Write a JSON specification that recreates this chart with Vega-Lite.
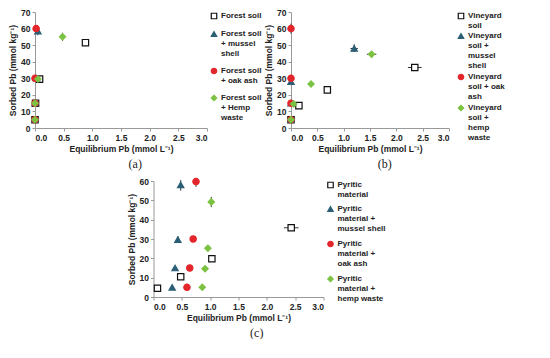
{
  "$schema": "https://vega.github.io/schema/vega-lite/v6.json",
  "padding": {"left": 8, "top": 8, "right": 0, "bottom": 0},
  "datasets": {
    "a": [
      {"series": "Forest soil", "x": 0.0, "y": 5},
      {"series": "Forest soil", "x": 0.01, "y": 15},
      {"series": "Forest soil", "x": 0.08, "y": 29.5},
      {"series": "Forest soil", "x": 0.88, "y": 51.5, "ylo": 49.5, "yhi": 53.5},
      {"series": "Forest soil + mussel shell", "x": 0.0, "y": 5},
      {"series": "Forest soil + mussel shell", "x": 0.0, "y": 15},
      {"series": "Forest soil + mussel shell", "x": 0.03, "y": 30},
      {"series": "Forest soil + mussel shell", "x": 0.05, "y": 58.5, "ylo": 56, "yhi": 61.5},
      {"series": "Forest soil + oak ash", "x": 0.0, "y": 5},
      {"series": "Forest soil + oak ash", "x": 0.0, "y": 15},
      {"series": "Forest soil + oak ash", "x": 0.0, "y": 30},
      {"series": "Forest soil + oak ash", "x": 0.02, "y": 60},
      {"series": "Forest soil + Hemp waste", "x": 0.0, "y": 5},
      {"series": "Forest soil + Hemp waste", "x": 0.0, "y": 15},
      {"series": "Forest soil + Hemp waste", "x": 0.05, "y": 29.5},
      {"series": "Forest soil + Hemp waste", "x": 0.48, "y": 55, "ylo": 52.5, "yhi": 57.5}
    ],
    "b": [
      {"series": "Vineyard soil", "x": 0.0, "y": 5},
      {"series": "Vineyard soil", "x": 0.15, "y": 13.5},
      {"series": "Vineyard soil", "x": 0.69, "y": 23},
      {"series": "Vineyard soil", "x": 2.35, "y": 36.5, "xlo": 2.22, "xhi": 2.48, "ylo": 35, "yhi": 38},
      {"series": "Vineyard soil + mussel shell", "x": 0.0, "y": 5},
      {"series": "Vineyard soil + mussel shell", "x": 0.0, "y": 15},
      {"series": "Vineyard soil + mussel shell", "x": 0.0, "y": 28},
      {"series": "Vineyard soil + mussel shell", "x": 1.2, "y": 48, "xlo": 1.13, "xhi": 1.27, "ylo": 45.8, "yhi": 50.5},
      {"series": "Vineyard soil + oak ash", "x": 0.0, "y": 5},
      {"series": "Vineyard soil + oak ash", "x": 0.0, "y": 15},
      {"series": "Vineyard soil + oak ash", "x": 0.0, "y": 30},
      {"series": "Vineyard soil + oak ash", "x": 0.0, "y": 60, "ylo": 57, "yhi": 63},
      {"series": "Vineyard soil + hemp waste", "x": 0.0, "y": 5},
      {"series": "Vineyard soil + hemp waste", "x": 0.05, "y": 14.5},
      {"series": "Vineyard soil + hemp waste", "x": 0.38, "y": 26.5, "ylo": 25, "yhi": 28},
      {"series": "Vineyard soil + hemp waste", "x": 1.53, "y": 44.5, "xlo": 1.44, "xhi": 1.62, "ylo": 42.5, "yhi": 46.5}
    ],
    "c": [
      {"series": "Pyritic material", "x": 0.07, "y": 4.5, "xlo": 0.03, "xhi": 0.11},
      {"series": "Pyritic material", "x": 0.48, "y": 10.5},
      {"series": "Pyritic material", "x": 1.03, "y": 19.8},
      {"series": "Pyritic material", "x": 2.43, "y": 35.8, "xlo": 2.3, "xhi": 2.56, "ylo": 34.5, "yhi": 37},
      {"series": "Pyritic material + mussel shell", "x": 0.33, "y": 5},
      {"series": "Pyritic material + mussel shell", "x": 0.38, "y": 15},
      {"series": "Pyritic material + mussel shell", "x": 0.43, "y": 29.7, "ylo": 28, "yhi": 31.5},
      {"series": "Pyritic material + mussel shell", "x": 0.48, "y": 58, "ylo": 55, "yhi": 60.5},
      {"series": "Pyritic material + oak ash", "x": 0.59, "y": 5},
      {"series": "Pyritic material + oak ash", "x": 0.64, "y": 15},
      {"series": "Pyritic material + oak ash", "x": 0.7, "y": 30, "ylo": 28.5, "yhi": 31.5},
      {"series": "Pyritic material + oak ash", "x": 0.75, "y": 59.7, "ylo": 57, "yhi": 61.5},
      {"series": "Pyritic material + hemp waste", "x": 0.86, "y": 5, "xlo": 0.81, "xhi": 0.91},
      {"series": "Pyritic material + hemp waste", "x": 0.91, "y": 14.6, "xlo": 0.86, "xhi": 0.96},
      {"series": "Pyritic material + hemp waste", "x": 0.96, "y": 25.2, "xlo": 0.92, "xhi": 1.0, "ylo": 23.8, "yhi": 26.8},
      {"series": "Pyritic material + hemp waste", "x": 1.02, "y": 49.2, "xlo": 0.97, "xhi": 1.07, "ylo": 46.5, "yhi": 51.8}
    ]
  },
  "vconcat": [
    {
      "hconcat": [
        {
          "width": 172, "height": 116,
          "data": {"name": "a"},
          "title": {"text": "(a)"},
          "layer": [
            {
              "transform": [{"filter": "isValid(datum.ylo)"}],
              "mark": {"type": "rule", "color": "#333", "strokeWidth": 1},
              "encoding": {
                "x": {"field": "x", "type": "quantitative", "scale": {"domain": [0, 3]}, "axis": {"title": "Equilibrium Pb (mmol L⁻¹)", "values": [0, 0.5, 1, 1.5, 2, 2.5, 3], "format": ".1f"}},
                "y": {"field": "ylo", "type": "quantitative", "scale": {"domain": [0, 70]}, "axis": {"title": "Sorbed Pb (mmol kg⁻¹)", "values": [0, 10, 20, 30, 40, 50, 60, 70]}},
                "y2": {"field": "yhi"}
              }
            },
            {
              "mark": {"type": "point", "strokeWidth": 1.2, "opacity": 1, "size": 40},
              "encoding": {
                "x": {"field": "x", "type": "quantitative", "scale": {"domain": [0, 3]}, "axis": {"title": "Equilibrium Pb (mmol L⁻¹)", "values": [0, 0.5, 1, 1.5, 2, 2.5, 3], "format": ".1f"}},
                "y": {"field": "y", "type": "quantitative", "scale": {"domain": [0, 70]}, "axis": {"title": "Sorbed Pb (mmol kg⁻¹)", "values": [0, 10, 20, 30, 40, 50, 60, 70]}},
                "fill": {"field": "series", "type": "nominal", "scale": {"domain": ["Forest soil", "Forest soil + mussel shell", "Forest soil + oak ash", "Forest soil + Hemp waste"], "range": ["white", "#2b5f75", "#e3262b", "#7cc242"]}, "legend": {"title": null, "rowPadding": 7, "labelExpr": "{'Forest soil': ['Forest soil'], 'Forest soil + mussel shell': ['Forest soil', '+ mussel', 'shell'], 'Forest soil + oak ash': ['Forest soil', '+ oak ash'], 'Forest soil + Hemp waste': ['Forest soil', '+ Hemp', 'waste']}[datum.label]", "encode": {"labels": {"update": {"lineHeight": {"value": 9}}}}}},
                "stroke": {"field": "series", "type": "nominal", "scale": {"domain": ["Forest soil", "Forest soil + mussel shell", "Forest soil + oak ash", "Forest soil + Hemp waste"], "range": ["#111", "#2b5f75", "#e3262b", "#7cc242"]}, "legend": {"title": null, "rowPadding": 7, "labelExpr": "{'Forest soil': ['Forest soil'], 'Forest soil + mussel shell': ['Forest soil', '+ mussel', 'shell'], 'Forest soil + oak ash': ['Forest soil', '+ oak ash'], 'Forest soil + Hemp waste': ['Forest soil', '+ Hemp', 'waste']}[datum.label]", "encode": {"labels": {"update": {"lineHeight": {"value": 9}}}}}},
                "shape": {"field": "series", "type": "nominal", "scale": {"domain": ["Forest soil", "Forest soil + mussel shell", "Forest soil + oak ash", "Forest soil + Hemp waste"], "range": ["square", "triangle-up", "circle", "diamond"]}, "legend": {"title": null, "rowPadding": 7, "labelExpr": "{'Forest soil': ['Forest soil'], 'Forest soil + mussel shell': ['Forest soil', '+ mussel', 'shell'], 'Forest soil + oak ash': ['Forest soil', '+ oak ash'], 'Forest soil + Hemp waste': ['Forest soil', '+ Hemp', 'waste']}[datum.label]", "encode": {"labels": {"update": {"lineHeight": {"value": 9}}}}}}
              }
            }
          ]
        },
        {
          "width": 158, "height": 116,
          "data": {"name": "b"},
          "title": {"text": "(b)"},
          "layer": [
            {
              "transform": [{"filter": "isValid(datum.ylo)"}],
              "mark": {"type": "rule", "color": "#333", "strokeWidth": 1},
              "encoding": {
                "x": {"field": "x", "type": "quantitative", "scale": {"domain": [0, 3]}, "axis": {"title": "Equilibrium Pb (mmol L⁻¹)", "values": [0, 0.5, 1, 1.5, 2, 2.5, 3], "format": ".1f"}},
                "y": {"field": "ylo", "type": "quantitative", "scale": {"domain": [0, 70]}, "axis": {"title": "Sorbed Pb (mmol kg⁻¹)", "values": [0, 10, 20, 30, 40, 50, 60, 70]}},
                "y2": {"field": "yhi"}
              }
            },
            {
              "transform": [{"filter": "isValid(datum.xlo)"}],
              "mark": {"type": "rule", "color": "#333", "strokeWidth": 1},
              "encoding": {
                "x": {"field": "xlo", "type": "quantitative", "scale": {"domain": [0, 3]}, "axis": {"title": "Equilibrium Pb (mmol L⁻¹)", "values": [0, 0.5, 1, 1.5, 2, 2.5, 3], "format": ".1f"}},
                "x2": {"field": "xhi"},
                "y": {"field": "y", "type": "quantitative", "scale": {"domain": [0, 70]}, "axis": {"title": "Sorbed Pb (mmol kg⁻¹)", "values": [0, 10, 20, 30, 40, 50, 60, 70]}}
              }
            },
            {
              "mark": {"type": "point", "strokeWidth": 1.2, "opacity": 1, "size": 40},
              "encoding": {
                "x": {"field": "x", "type": "quantitative", "scale": {"domain": [0, 3]}, "axis": {"title": "Equilibrium Pb (mmol L⁻¹)", "values": [0, 0.5, 1, 1.5, 2, 2.5, 3], "format": ".1f"}},
                "y": {"field": "y", "type": "quantitative", "scale": {"domain": [0, 70]}, "axis": {"title": "Sorbed Pb (mmol kg⁻¹)", "values": [0, 10, 20, 30, 40, 50, 60, 70]}},
                "fill": {"field": "series", "type": "nominal", "scale": {"domain": ["Vineyard soil", "Vineyard soil + mussel shell", "Vineyard soil + oak ash", "Vineyard soil + hemp waste"], "range": ["white", "#2b5f75", "#e3262b", "#7cc242"]}, "legend": {"title": null, "offset": 8, "rowPadding": 1, "labelExpr": "{'Vineyard soil': ['Vineyard', 'soil'], 'Vineyard soil + mussel shell': ['Vineyard', 'soil +', 'mussel', 'shell'], 'Vineyard soil + oak ash': ['Vineyard', 'soil + oak', 'ash'], 'Vineyard soil + hemp waste': ['Vineyard', 'soil +', 'hemp', 'waste']}[datum.label]", "encode": {"labels": {"update": {"lineHeight": {"value": 9}}}}}},
                "stroke": {"field": "series", "type": "nominal", "scale": {"domain": ["Vineyard soil", "Vineyard soil + mussel shell", "Vineyard soil + oak ash", "Vineyard soil + hemp waste"], "range": ["#111", "#2b5f75", "#e3262b", "#7cc242"]}, "legend": {"title": null, "offset": 8, "rowPadding": 1, "labelExpr": "{'Vineyard soil': ['Vineyard', 'soil'], 'Vineyard soil + mussel shell': ['Vineyard', 'soil +', 'mussel', 'shell'], 'Vineyard soil + oak ash': ['Vineyard', 'soil + oak', 'ash'], 'Vineyard soil + hemp waste': ['Vineyard', 'soil +', 'hemp', 'waste']}[datum.label]", "encode": {"labels": {"update": {"lineHeight": {"value": 9}}}}}},
                "shape": {"field": "series", "type": "nominal", "scale": {"domain": ["Vineyard soil", "Vineyard soil + mussel shell", "Vineyard soil + oak ash", "Vineyard soil + hemp waste"], "range": ["square", "triangle-up", "circle", "diamond"]}, "legend": {"title": null, "offset": 8, "rowPadding": 1, "labelExpr": "{'Vineyard soil': ['Vineyard', 'soil'], 'Vineyard soil + mussel shell': ['Vineyard', 'soil +', 'mussel', 'shell'], 'Vineyard soil + oak ash': ['Vineyard', 'soil + oak', 'ash'], 'Vineyard soil + hemp waste': ['Vineyard', 'soil +', 'hemp', 'waste']}[datum.label]", "encode": {"labels": {"update": {"lineHeight": {"value": 9}}}}}}
              }
            }
          ]
        }
      ],
      "spacing": 2,
      "resolve": {"scale": {"fill": "independent", "stroke": "independent", "shape": "independent"}, "legend": {"fill": "independent", "stroke": "independent", "shape": "independent"}}
    },
    {
      "width": 170, "height": 116,
      "data": {"name": "c"},
      "title": {"text": "(c)"},
      "layer": [
        {
          "transform": [{"filter": "isValid(datum.ylo)"}],
          "mark": {"type": "rule", "color": "#333", "strokeWidth": 1},
          "encoding": {
            "x": {"field": "x", "type": "quantitative", "scale": {"domain": [0, 3]}, "axis": {"title": "Equilibrium Pb (mmol L⁻¹)", "values": [0, 0.5, 1, 1.5, 2, 2.5, 3], "format": ".1f"}},
            "y": {"field": "ylo", "type": "quantitative", "scale": {"domain": [0, 60]}, "axis": {"title": "Sorbed Pb (mmol kg⁻¹)", "values": [0, 10, 20, 30, 40, 50, 60]}},
            "y2": {"field": "yhi"}
          }
        },
        {
          "transform": [{"filter": "isValid(datum.xlo)"}],
          "mark": {"type": "rule", "color": "#333", "strokeWidth": 1},
          "encoding": {
            "x": {"field": "xlo", "type": "quantitative", "scale": {"domain": [0, 3]}, "axis": {"title": "Equilibrium Pb (mmol L⁻¹)", "values": [0, 0.5, 1, 1.5, 2, 2.5, 3], "format": ".1f"}},
            "x2": {"field": "xhi"},
            "y": {"field": "y", "type": "quantitative", "scale": {"domain": [0, 60]}, "axis": {"title": "Sorbed Pb (mmol kg⁻¹)", "values": [0, 10, 20, 30, 40, 50, 60]}}
          }
        },
        {
          "mark": {"type": "point", "strokeWidth": 1.2, "opacity": 1, "size": 40},
          "encoding": {
            "x": {"field": "x", "type": "quantitative", "scale": {"domain": [0, 3]}, "axis": {"title": "Equilibrium Pb (mmol L⁻¹)", "values": [0, 0.5, 1, 1.5, 2, 2.5, 3], "format": ".1f"}},
            "y": {"field": "y", "type": "quantitative", "scale": {"domain": [0, 60]}, "axis": {"title": "Sorbed Pb (mmol kg⁻¹)", "values": [0, 10, 20, 30, 40, 50, 60]}},
            "fill": {"field": "series", "type": "nominal", "scale": {"domain": ["Pyritic material", "Pyritic material + mussel shell", "Pyritic material + oak ash", "Pyritic material + hemp waste"], "range": ["white", "#2b5f75", "#e3262b", "#7cc242"]}, "legend": {"title": null, "rowPadding": 5, "labelExpr": "{'Pyritic material': ['Pyritic', 'material'], 'Pyritic material + mussel shell': ['Pyritic', 'material +', 'mussel shell'], 'Pyritic material + oak ash': ['Pyritic', 'material +', 'oak ash'], 'Pyritic material + hemp waste': ['Pyritic', 'material +', 'hemp waste']}[datum.label]", "encode": {"labels": {"update": {"lineHeight": {"value": 9}}}}}},
            "stroke": {"field": "series", "type": "nominal", "scale": {"domain": ["Pyritic material", "Pyritic material + mussel shell", "Pyritic material + oak ash", "Pyritic material + hemp waste"], "range": ["#111", "#2b5f75", "#e3262b", "#7cc242"]}, "legend": {"title": null, "rowPadding": 5, "labelExpr": "{'Pyritic material': ['Pyritic', 'material'], 'Pyritic material + mussel shell': ['Pyritic', 'material +', 'mussel shell'], 'Pyritic material + oak ash': ['Pyritic', 'material +', 'oak ash'], 'Pyritic material + hemp waste': ['Pyritic', 'material +', 'hemp waste']}[datum.label]", "encode": {"labels": {"update": {"lineHeight": {"value": 9}}}}}},
            "shape": {"field": "series", "type": "nominal", "scale": {"domain": ["Pyritic material", "Pyritic material + mussel shell", "Pyritic material + oak ash", "Pyritic material + hemp waste"], "range": ["square", "triangle-up", "circle", "diamond"]}, "legend": {"title": null, "rowPadding": 5, "labelExpr": "{'Pyritic material': ['Pyritic', 'material'], 'Pyritic material + mussel shell': ['Pyritic', 'material +', 'mussel shell'], 'Pyritic material + oak ash': ['Pyritic', 'material +', 'oak ash'], 'Pyritic material + hemp waste': ['Pyritic', 'material +', 'hemp waste']}[datum.label]", "encode": {"labels": {"update": {"lineHeight": {"value": 9}}}}}}
          }
        }
      ]
    }
  ],
  "spacing": 6,
  "center": true,
  "resolve": {"scale": {"fill": "independent", "stroke": "independent", "shape": "independent"}, "legend": {"fill": "independent", "stroke": "independent", "shape": "independent"}},
  "config": {
    "font": "Liberation Sans",
    "view": {"stroke": null},
    "axis": {"grid": false, "labelFont": "Liberation Sans", "labelFontSize": 8.5, "labelFontWeight": "bold", "labelColor": "#222", "titleFont": "Liberation Sans", "titleFontSize": 8.5, "titleFontWeight": "bold", "titleColor": "#222", "domainColor": "#999", "tickColor": "#999", "tickSize": 3, "titlePadding": 3},
    "legend": {"labelFont": "Liberation Sans", "labelFontSize": 8, "labelFontWeight": "bold", "labelColor": "#222", "symbolSize": 30, "symbolStrokeWidth": 1.2, "offset": 3, "labelOffset": 3, "padding": 0, "rowPadding": 8, "labelLimit": 200},
    "title": {"font": "Liberation Serif", "fontSize": 12, "fontWeight": "normal", "orient": "bottom", "anchor": "middle", "frame": "bounds", "color": "#222", "offset": 6}
  }
}
